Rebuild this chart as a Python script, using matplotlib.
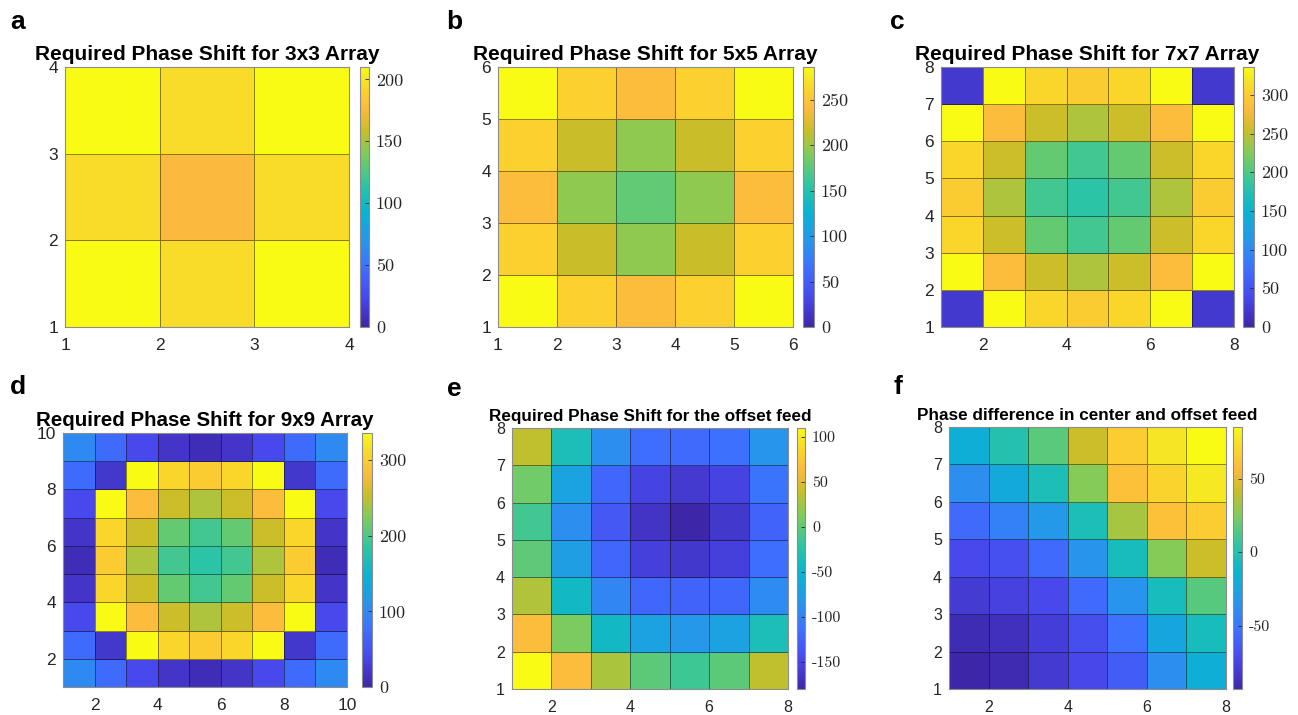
import numpy as np
import matplotlib
matplotlib.use("Agg")
import matplotlib.pyplot as plt
from matplotlib.colors import LinearSegmentedColormap

# MATLAB parula, approximated by anchor colours
parula_pts = [
    (0.000, (0.2422, 0.1504, 0.6603)), (0.111, (0.2803, 0.2782, 0.9221)),
    (0.222, (0.2440, 0.4358, 0.9988)), (0.333, (0.1540, 0.5902, 0.9218)),
    (0.444, (0.0297, 0.7082, 0.8163)), (0.556, (0.1938, 0.7758, 0.6251)),
    (0.667, (0.5044, 0.7993, 0.3480)), (0.760, (0.8000, 0.7450, 0.1550)),
    (0.845, (0.9900, 0.7300, 0.2400)), (0.905, (0.9850, 0.8200, 0.1800)),
    (0.955, (0.9650, 0.9000, 0.1400)), (1.000, (0.9769, 0.9839, 0.0805)),
]
parula = LinearSegmentedColormap.from_list("parula", parula_pts)

# phase values, rows listed top (highest y) to bottom
phase_3x3 = [
    [210, 195, 210],
    [195, 177, 195],
    [210, 195, 210],
]
phase_5x5 = [
    [286, 258, 243, 258, 286],
    [258, 216, 196, 216, 258],
    [243, 196, 178, 196, 243],
    [258, 216, 196, 216, 258],
    [286, 258, 243, 258, 286],
]
phase_7x7 = [
    [22, 336, 308, 298, 308, 336, 22],
    [336, 286, 255, 242, 255, 286, 336],
    [308, 255, 210, 195, 210, 255, 308],
    [298, 242, 195, 182, 195, 242, 298],
    [308, 255, 210, 195, 210, 255, 308],
    [336, 286, 255, 242, 255, 286, 336],
    [22, 336, 308, 298, 308, 336, 22],
]
phase_9x9 = [
    [100, 72, 40, 18, 8, 18, 40, 72, 100],
    [72, 20, 336, 308, 298, 308, 336, 20, 72],
    [40, 336, 286, 255, 242, 255, 286, 336, 40],
    [18, 308, 255, 210, 195, 210, 255, 308, 18],
    [8, 298, 242, 195, 182, 195, 242, 298, 8],
    [18, 308, 255, 210, 195, 210, 255, 308, 18],
    [40, 336, 286, 255, 242, 255, 286, 336, 40],
    [72, 20, 336, 308, 298, 308, 336, 20, 72],
    [100, 72, 40, 18, 8, 18, 40, 72, 100],
]
phase_offset = [
    [36, -35, -90, -116, -119, -115, -84],
    [6, -70, -122, -151, -160, -151, -112],
    [-12, -90, -134, -166, -180, -163, -125],
    [0, -75, -122, -155, -163, -155, -116],
    [30, -44, -97, -122, -125, -122, -92],
    [66, 11, -44, -72, -82, -72, -35],
    [110, 66, 28, -2, -14, -2, 36],
]
phase_diff = [
    [-18, 0, 16, 42, 66, 76, 85],
    [-38, -22, -4, 26, 60, 69, 78],
    [-56, -45, -32, -4, 34, 60, 66],
    [-72, -69, -56, -35, -6, 26, 42],
    [-80, -77, -72, -56, -35, -6, 15],
    [-89, -87, -79, -70, -52, -24, -6],
    [-93, -90, -81, -73, -62, -38, -18],
]

titles = [
    "Required Phase Shift for 3x3 Array",
    "Required Phase Shift for 5x5 Array",
    "Required Phase Shift for 7x7 Array",
    "Required Phase Shift for 9x9 Array",
    "Required Phase Shift for the offset feed",
    "Phase difference in center and offset feed",
]
letters = ["a", "b", "c", "d", "e", "f"]
datasets = [phase_3x3, phase_5x5, phase_7x7, phase_9x9, phase_offset, phase_diff]
clims = [(0, 210), (0, 286), (0, 336), (0, 336), (-180, 110), (-93, 85)]
xticks = [[1, 2, 3, 4], [1, 2, 3, 4, 5, 6], [2, 4, 6, 8], [2, 4, 6, 8, 10], [2, 4, 6, 8], [2, 4, 6, 8]]
yticks = [[1, 2, 3, 4], [1, 2, 3, 4, 5, 6], list(range(1, 9)), [2, 4, 6, 8, 10], list(range(1, 9)), list(range(1, 9))]
cticks = [[0, 50, 100, 150, 200], [0, 50, 100, 150, 200, 250], [0, 50, 100, 150, 200, 250, 300],
          [0, 100, 200, 300], [-150, -100, -50, 0, 50, 100], [-50, 0, 50]]

W, H = 1298, 715
# pixel boxes: (left, top, right, bottom)
ax_px = [(65, 67, 349, 327), (498, 67, 793, 327), (941, 67, 1234, 327),
         (63, 433, 347, 687), (512, 428, 788, 689), (949, 427, 1226, 689)]
cb_px = [(360, 67, 369, 327), (803, 67, 814, 327), (1243, 67, 1254, 327),
         (362, 433, 372, 687), (797, 428, 805, 689), (1233, 427, 1242, 689)]
letter_px = [(10, 29), (446, 29), (890, 29), (10, 394), (447, 396), (893, 394)]
title_fs = [15, 15, 15, 14.8, 12.3, 12.3]
tick_fs = [12.5, 12.5, 12.5, 12.5, 11.5, 11.5]
ctick_fs = [13, 13, 13, 13, 11.5, 11.5]


def frac(box):
    l, t, r, b = box
    return [l / W, 1 - b / H, (r - l) / W, (b - t) / H]


plt.rcParams["font.family"] = ["Liberation Sans", "DejaVu Sans"]
fig = plt.figure(figsize=(W / 100, H / 100), dpi=100)

for i in range(6):
    z = np.flipud(np.array(datasets[i], dtype=float))
    n = z.shape[0]
    edges = np.arange(1, n + 2)
    ax = fig.add_axes(frac(ax_px[i]))
    mesh = ax.pcolormesh(edges, edges, z, cmap=parula, vmin=clims[i][0], vmax=clims[i][1],
                         edgecolors=(0, 0, 0, 0.45), linewidth=0.6)
    ax.set_xlim(1, n + 1)
    ax.set_ylim(1, n + 1)
    ax.set_xticks(xticks[i])
    ax.set_yticks(yticks[i])
    ax.tick_params(length=0, labelsize=tick_fs[i], labelcolor="#262626", pad=5)
    ax.tick_params(axis="x", pad=8)
    for s in ax.spines.values():
        s.set_edgecolor("#8c8c8c")
        s.set_linewidth(0.8)
    ax.set_title(titles[i], fontsize=title_fs[i], fontweight="bold", pad=5)

    cax = fig.add_axes(frac(cb_px[i]))
    cb = fig.colorbar(mesh, cax=cax)
    cb.outline.set_edgecolor("#8c8c8c")
    cb.outline.set_linewidth(0.8)
    cax.set_yticks(cticks[i])
    cax.set_yticklabels([str(t) for t in cticks[i]], fontfamily="cmr10", fontsize=ctick_fs[i])
    cax.tick_params(direction="in", length=3, width=0.6, color="#262626", labelcolor="#262626", pad=5)

    fig.text(letter_px[i][0] / W, 1 - letter_px[i][1] / H, letters[i],
             fontsize=19, fontweight="bold", ha="left", va="baseline")

fig.savefig("out.png", dpi=100)
